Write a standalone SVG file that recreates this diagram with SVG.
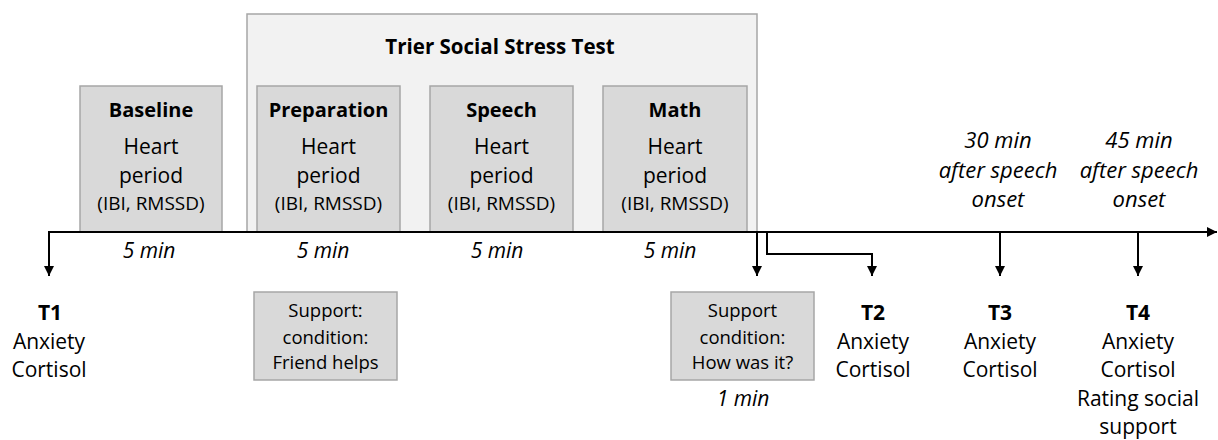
<svg xmlns="http://www.w3.org/2000/svg" width="1218" height="440" viewBox="0 0 1218 440">
<style>
  text { font-family: "Open Sans", "Liberation Sans", sans-serif; fill: #000; text-anchor: middle; }
  .t { font-size: 21px; }
  .b { font-size: 20px; font-weight: bold; }
  .s { font-size: 19px; }
  .sm { font-size: 18.5px; }
  .i { font-size: 21px; font-style: italic; }
  .i2 { font-size: 22px; font-style: italic; }
  .box { fill: #d9d9d9; stroke: #a6a6a6; stroke-width: 1.5; }
  .outer { fill: #f2f2f2; stroke: #a6a6a6; stroke-width: 1.5; }
  .ln { fill: none; stroke: #000; stroke-width: 2; }
</style>
<defs>
  <marker id="ah" viewBox="0 0 10 10" refX="10" refY="5" markerWidth="5" markerHeight="5" orient="auto" markerUnits="strokeWidth">
    <path d="M0,0 L10,5 L0,10 Z" fill="#000"/>
  </marker>
</defs>

<g id="tsst">
  <rect class="outer" x="247" y="14" width="510" height="218"/>
  <text class="b" x="500" y="54" style="font-size:20.5px">Trier Social Stress Test</text>
</g>

<g id="baseline">
  <rect class="box" x="80" y="86" width="142" height="146"/>
  <text class="b" x="151" y="117">Baseline</text>
  <text class="t" x="151" y="154">Heart</text>
  <text class="t" x="151" y="183">period</text>
  <text class="s" x="151" y="210">(IBI, RMSSD)</text>
</g>
<g id="preparation">
  <rect class="box" x="257" y="86" width="143" height="146"/>
  <text class="b" x="328.5" y="117">Preparation</text>
  <text class="t" x="328.5" y="154">Heart</text>
  <text class="t" x="328.5" y="183">period</text>
  <text class="s" x="328.5" y="210">(IBI, RMSSD)</text>
</g>
<g id="speech">
  <rect class="box" x="430" y="86" width="143" height="146"/>
  <text class="b" x="501.5" y="117">Speech</text>
  <text class="t" x="501.5" y="154">Heart</text>
  <text class="t" x="501.5" y="183">period</text>
  <text class="s" x="501.5" y="210">(IBI, RMSSD)</text>
</g>
<g id="math">
  <rect class="box" x="603" y="86" width="144" height="146"/>
  <text class="b" x="675" y="117">Math</text>
  <text class="t" x="675" y="154">Heart</text>
  <text class="t" x="675" y="183">period</text>
  <text class="s" x="675" y="210">(IBI, RMSSD)</text>
</g>

<g id="durations">
  <text class="i" x="149" y="258">5 min</text>
  <text class="i" x="323" y="258">5 min</text>
  <text class="i" x="497" y="258">5 min</text>
  <text class="i" x="670" y="258">5 min</text>
  <text class="i" x="743" y="406">1 min</text>
</g>

<g id="timing30">
  <text class="i2" x="998" y="148">30 min</text>
  <text class="i2" x="998" y="178">after speech</text>
  <text class="i2" x="998" y="207">onset</text>
</g>
<g id="timing45">
  <text class="i2" x="1139" y="148">45 min</text>
  <text class="i2" x="1139" y="178">after speech</text>
  <text class="i2" x="1139" y="207">onset</text>
</g>

<g id="support1">
  <rect class="box" x="254" y="292" width="143" height="88"/>
  <text class="sm" x="325.5" y="317">Support:</text>
  <text class="sm" x="325.5" y="344">condition:</text>
  <text class="sm" x="325.5" y="369">Friend helps</text>
</g>
<g id="support2">
  <rect class="box" x="671" y="292" width="143" height="88"/>
  <text class="sm" x="742.5" y="317">Support</text>
  <text class="sm" x="742.5" y="344">condition:</text>
  <text class="sm" x="742.5" y="369">How was it?</text>
</g>

<g id="t1">
  <text class="b" x="50" y="320" style="font-size:21px">T1</text>
  <text class="t" x="49" y="349">Anxiety</text>
  <text class="t" x="49" y="377">Cortisol</text>
</g>
<g id="t2">
  <text class="b" x="873" y="320" style="font-size:21px">T2</text>
  <text class="t" x="873" y="349">Anxiety</text>
  <text class="t" x="873" y="377">Cortisol</text>
</g>
<g id="t3">
  <text class="b" x="1000" y="320" style="font-size:21px">T3</text>
  <text class="t" x="1000" y="349">Anxiety</text>
  <text class="t" x="1000" y="377">Cortisol</text>
</g>
<g id="t4">
  <text class="b" x="1138" y="320" style="font-size:21px">T4</text>
  <text class="t" x="1138" y="349">Anxiety</text>
  <text class="t" x="1138" y="377">Cortisol</text>
  <text class="t" x="1138" y="406">Rating social</text>
  <text class="t" x="1138" y="434">support</text>
</g>

<g id="connectors">
  <path class="ln" d="M48,232 H1217" marker-end="url(#ah)"/>
  <path class="ln" d="M49,232 V276" marker-end="url(#ah)"/>
  <path class="ln" d="M757,232 V276" marker-end="url(#ah)"/>
  <path class="ln" d="M767,232 V254 H872 V276" marker-end="url(#ah)"/>
  <path class="ln" d="M1000,232 V276" marker-end="url(#ah)"/>
  <path class="ln" d="M1138,232 V276" marker-end="url(#ah)"/>
</g>
</svg>
